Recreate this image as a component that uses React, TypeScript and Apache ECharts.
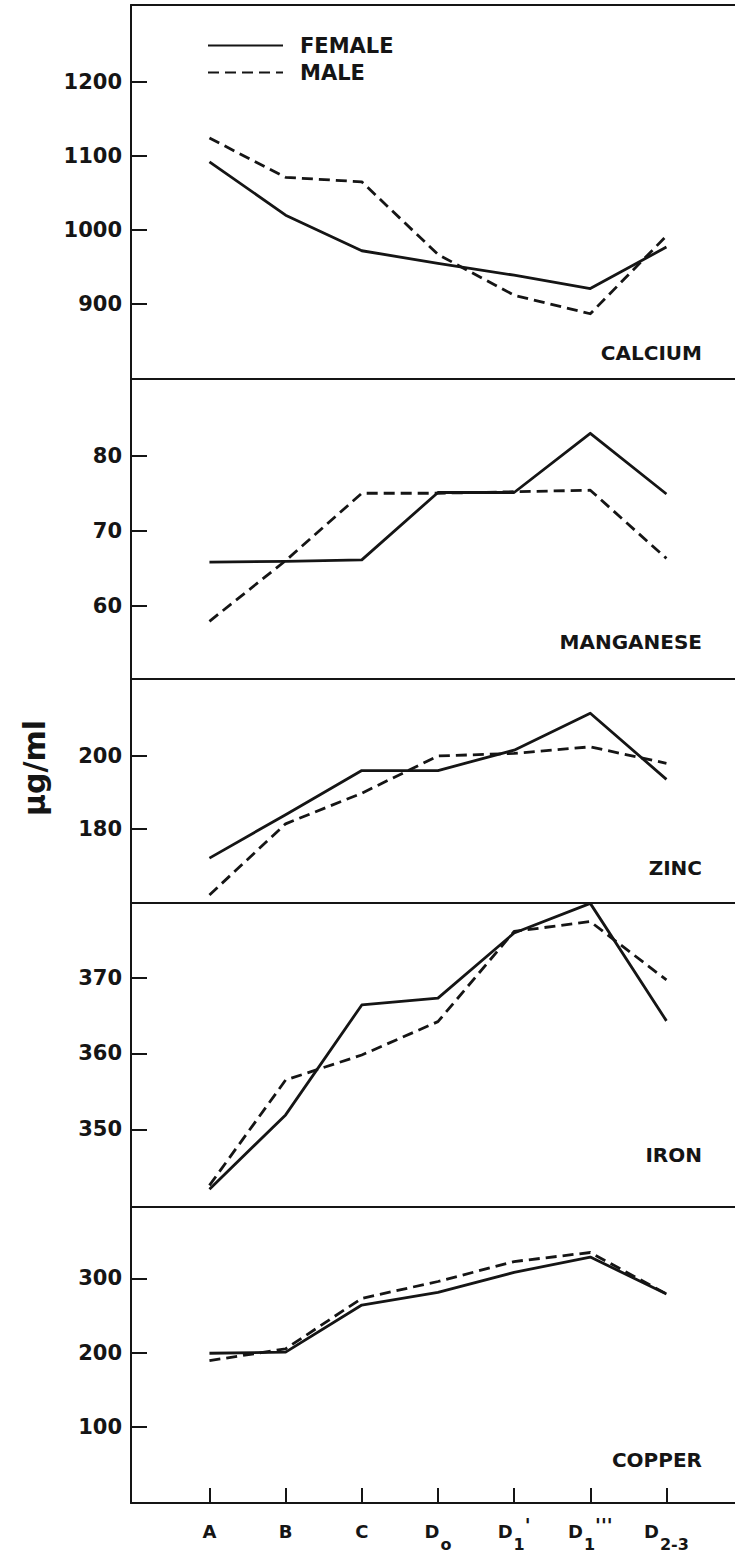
import React, { useEffect, useRef } from 'react';
import * as echarts from 'echarts';

// ---------- data ----------
const categories = ['A', 'B', 'C', 'Do', "D1'", "D1'''", 'D2-3'];
const xTickLabels = ['A', 'B', 'C', 'D{s|o}', "D{s|1}{t|'}", "D{s|1}{t|'''}", 'D{s|2-3}'];

const calciumFemale = [1092, 1020, 972, 955, 939, 921, 977];
const calciumMale = [1124, 1071, 1065, 967, 912, 887, 992];

const manganeseFemale = [65.8, 65.9, 66.1, 75.1, 75.1, 83.0, 74.9];
const manganeseMale = [57.9, 66.0, 75.0, 75.0, 75.2, 75.4, 66.3];

const zincFemale = [172.0, 183.9, 196.0, 196.0, 201.6, 211.7, 193.6];
const zincMale = [161.9, 181.4, 189.8, 200.0, 200.7, 202.5, 198.0];

const ironFemale = [342.1, 351.9, 366.4, 367.3, 375.9, 379.8, 364.3];
const ironMale = [342.6, 356.5, 359.8, 364.2, 376.1, 377.4, 369.7];

const copperFemale = [199, 200.5, 264, 281, 308, 328.6, 279];
const copperMale = [189, 205, 273, 295.7, 322.6, 334.8, 279];

const panelNames = ['CALCIUM', 'MANGANESE', 'ZINC', 'IRON', 'COPPER'];
const yTickValues = [
  [900, 1000, 1100, 1200],
  [60, 70, 80],
  [180, 200],
  [350, 360, 370],
  [100, 200, 300],
];
const yMins = [799, 50.2, 159.7, 339.75, -2.8];
const yMaxs = [1303.5, 90.25, 221.1, 379.85, 396.1];

const femaleSets = [calciumFemale, manganeseFemale, zincFemale, ironFemale, copperFemale];
const maleSets = [calciumMale, manganeseMale, zincMale, ironMale, copperMale];

// ---------- layout ----------
const W = 735;
const H = 1560;
const AXIS_X = 131;
const panelTops = [5, 379, 679, 903, 1207];
const panelBottoms = [379, 679, 903, 1207, 1503];
const nameCenters = [352.5, 641.7, 868, 1155, 1460];
const FONT = '"DejaVu Sans", "Liberation Sans", Arial, sans-serif';
const INK = '#151515';

function buildOption() {
  const grids: any[] = [];
  const xAxes: any[] = [];
  const yAxes: any[] = [];
  const series: any[] = [];
  const last = panelNames.length - 1;

  panelNames.forEach((_, i) => {
    grids.push({
      left: AXIS_X,
      right: 0,
      top: panelTops[i],
      height: panelBottoms[i] - panelTops[i],
      containLabel: false,
    });
    xAxes.push({
      type: 'value',
      gridIndex: i,
      min: -1.03,
      max: 6.9,
      position: 'bottom',
      splitLine: { show: false },
      axisLine: { show: true, onZero: false, lineStyle: { color: INK, width: 2 } },
      axisTick: {
        show: i === last,
        inside: true,
        length: 15,
        customValues: categories.map((_, k) => k),
        lineStyle: { color: INK, width: 2 },
      },
      axisLabel: {
        show: i === last,
        customValues: categories.map((_, k) => k),
        formatter: (v: number) => {
          const k = Math.round(v);
          return Math.abs(v - k) < 1e-6 && k >= 0 && k < xTickLabels.length ? xTickLabels[k] : '';
        },
        margin: 8,
        color: INK,
        fontFamily: FONT,
        fontWeight: 'bold',
        fontSize: 18,
        lineHeight: 40,
        rich: {
          s: { fontFamily: FONT, fontWeight: 'bold', fontSize: 16, lineHeight: 16, padding: [26, 0, 0, 1], color: INK },
          t: { fontFamily: FONT, fontWeight: 'bold', fontSize: 19, lineHeight: 16, padding: [0, 0, 12, 0], color: INK },
        },
      },
    });
    yAxes.push({
      type: 'value',
      gridIndex: i,
      min: yMins[i],
      max: yMaxs[i],
      splitLine: { show: false },
      axisLine: { show: true, onZero: false, lineStyle: { color: INK, width: 2 } },
      axisTick: {
        show: true,
        inside: true,
        length: 16,
        customValues: yTickValues[i],
        lineStyle: { color: INK, width: 2 },
      },
      axisLabel: {
        show: true,
        customValues: yTickValues[i],
        formatter: (v: number) => String(Math.round(v)),
        margin: 9,
        color: INK,
        fontFamily: FONT,
        fontWeight: 'bold',
        fontSize: 21,
      },
    });
    const mk = (name: string, arr: number[], dashed: boolean) => ({
      name,
      type: 'line',
      xAxisIndex: i,
      yAxisIndex: i,
      symbol: 'none',
      data: arr.map((v, k) => [k, v]),
      lineStyle: {
        color: INK,
        width: 2.8,
        type: dashed ? [11, 6] : 'solid',
        join: 'round',
      },
      itemStyle: { color: INK, opacity: 0 },
      z: dashed ? 3 : 2,
    });
    series.push(mk('FEMALE', femaleSets[i], false));
    series.push(mk('MALE', maleSets[i], true));
  });

  // top border of the first panel
  xAxes.push({
    type: 'value',
    gridIndex: 0,
    min: -1.03,
    max: 6.9,
    position: 'top',
    splitLine: { show: false },
    axisLine: { show: true, onZero: false, lineStyle: { color: INK, width: 2 } },
    axisTick: { show: false },
    axisLabel: { show: false },
  });

  const graphic: any[] = panelNames.map((n, i) => ({
    type: 'text',
    x: 702,
    y: nameCenters[i],
    style: {
      text: n,
      align: 'right',
      verticalAlign: 'middle',
      fill: INK,
      font: `bold 20px ${FONT}`,
    },
  }));
  graphic.push({
    type: 'text',
    x: 34,
    y: 768,
    rotation: Math.PI / 2,
    style: {
      text: 'μg/ml',
      align: 'center',
      verticalAlign: 'middle',
      fill: INK,
      font: `bold 30px ${FONT}`,
    },
  });

  return {
    animation: false,
    backgroundColor: '#ffffff',
    textStyle: { fontFamily: FONT },
    legend: {
      data: ['FEMALE', 'MALE'],
      orient: 'vertical',
      left: 207,
      top: 35,
      itemWidth: 75,
      itemHeight: 14,
      itemGap: 6,
      padding: 0,
      itemStyle: { opacity: 0 },
      textStyle: {
        color: INK,
        fontFamily: FONT,
        fontWeight: 'bold',
        fontSize: 21,
        padding: [0, 0, 0, 12],
      },
      selectedMode: false,
    },
    grid: grids,
    xAxis: xAxes,
    yAxis: yAxes,
    series,
    graphic,
  };
}

export default function App() {
  const ref = useRef<HTMLDivElement>(null);
  useEffect(() => {
    if (!ref.current) return;
    const chart = echarts.init(ref.current, undefined, { renderer: 'svg', width: W, height: H });
    chart.setOption(buildOption() as any);
    return () => chart.dispose();
  }, []);
  return (
    <div
      ref={ref}
      style={{ position: 'absolute', left: 0, top: 0, width: W, height: H, background: '#fff' }}
    />
  );
}
